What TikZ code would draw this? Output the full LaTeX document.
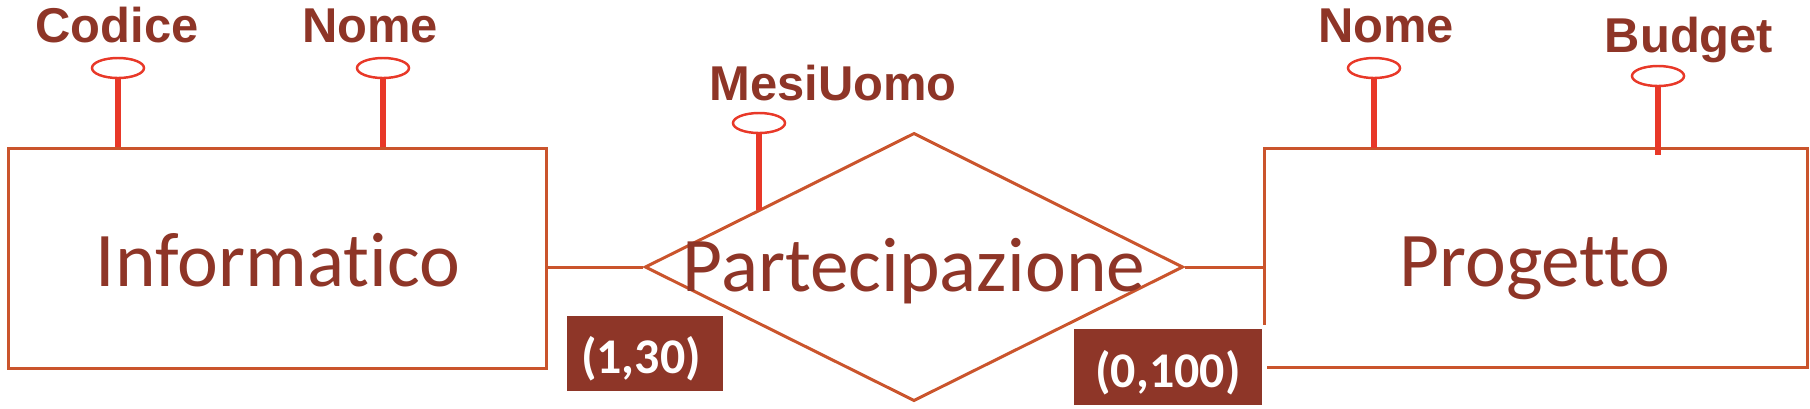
\documentclass[tikz,border=0pt]{standalone}
\usepackage{fontspec}
\usetikzlibrary{shapes.geometric,calc}
\newfontfamily\carlito[Ligatures=NoCommon]{Carlito}
\newfontfamily\attrfont{Liberation Sans Bold}
\definecolor{txtred}{RGB}{142,53,39}
\definecolor{edgeor}{RGB}{202,84,44}
\definecolor{attred}{RGB}{232,56,40}
\definecolor{cardfill}{RGB}{142,54,40}
\tikzset{
  entline/.style={draw=edgeor, line width=0.85pt},
  entbox/.style={rectangle, inner sep=0pt},
  relbox/.style={diamond, inner sep=0pt, draw=edgeor, line width=0.85pt},
  bigtext/.style={font=\carlito\fontsize{22}{26}\selectfont, text=txtred, inner sep=0pt, anchor=base},
  attrell/.style={ellipse, draw=attred, line width=0.7pt, minimum width=0.52cm, minimum height=0.2cm, inner sep=0pt},
  attrline/.style={draw=attred, line width=1.5pt},
  attrtext/.style={font=\attrfont\fontsize{13.9}{16}\selectfont, text=txtred, inner sep=0pt, anchor=base},
  cardbox/.style={rectangle, fill=cardfill, inner sep=0pt},
  cardtext/.style={font=\carlito\bfseries\fontsize{14.2}{17}\selectfont, text=white, inner sep=0pt, anchor=base},
}
\begin{document}
\begin{tikzpicture}[x=0.01cm, y=-0.01cm]
\useasboundingbox (0,0) rectangle (1810,408);
% entities
\node[entbox, draw=edgeor, line width=0.85pt, minimum width=5.37cm, minimum height=2.19cm] (inf) at (277.5,258.5) {};
\node[entbox, minimum width=5.42cm, minimum height=2.18cm] (pro) at (1536,258) {};
\draw[entline] ([yshift=0.43cm]pro.south west) -- (pro.north west) -- (pro.north east) -- (pro.south east) -- ([xshift=0.03cm]pro.south west);
\node[bigtext] (infT) at (278,286) {Informatico};
\node[bigtext] (proT) at (1535,286) {Progetto};
% relationship
\node[relbox, minimum width=5.38cm, minimum height=2.68cm] (par) at (914,267) {};
\node[bigtext] (parT) at (914,291) {Partecipazione};
\draw[entline] (par.west) -- (par.west -| inf.east);
\draw[entline] (par.east) -- (par.east -| pro.west);
% cardinalities
\node[cardbox, minimum width=1.56cm, minimum height=0.75cm] (c1) at (645,353.5) {};
\node[cardtext] (c1T) at (641,373) {(1,30)};
\node[cardbox, minimum width=1.88cm, minimum height=0.76cm] (c2) at (1168,367) {};
\node[cardtext] (c2T) at (1168,387) {(0,100)};
% attributes
\node[attrell] (codE) at (118,68) {};
\draw[attrline] (codE.south) -- (codE.south |- inf.north);
\node[attrtext] (codT) at (117,42) {Codice};
\node[attrell] (nomLE) at (383,68) {};
\draw[attrline] (nomLE.south) -- (nomLE.south |- inf.north);
\node[attrtext] (nomLT) at (370,42) {Nome};
\node[attrell] (mesE) at (759,123) {};
\coordinate (mesP) at ($(par.west)!0.424!(par.north)$);
\draw[attrline] (mesE.south) -- (mesE.south |- mesP);
\node[attrtext] (mesT) at (833,100) {MesiUomo};
\node[attrell] (nomRE) at (1374,68) {};
\draw[attrline] (nomRE.south) -- (nomRE.south |- pro.north);
\node[attrtext] (nomRT) at (1386,42) {Nome};
\node[attrell] (budE) at (1658,76) {};
\draw[attrline] (budE.south) -- ([yshift=-0.07cm]budE.south |- pro.north);
\node[attrtext] (budT) at (1689,52) {Budget};
\end{tikzpicture}
\end{document}
